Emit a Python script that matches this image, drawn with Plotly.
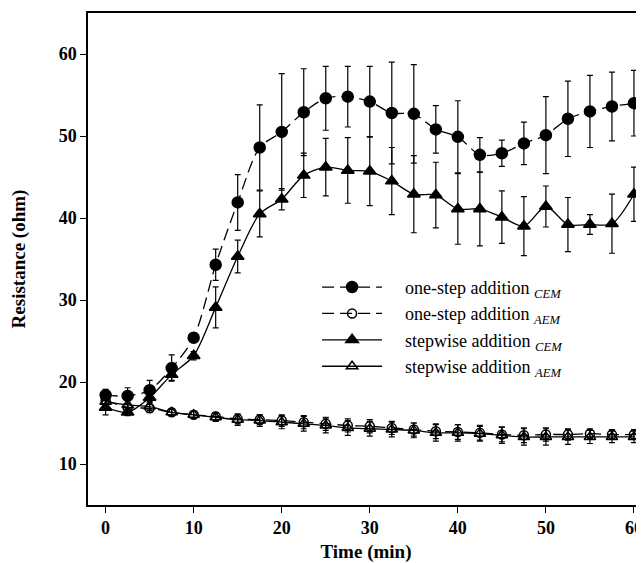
import plotly.graph_objects as go

# time points (min)
time = [0, 2.5, 5, 7.5, 10, 12.5, 15, 17.5, 20, 22.5, 25, 27.5, 30, 32.5,
        35, 37.5, 40, 42.5, 45, 47.5, 50, 52.5, 55, 57.5, 60]

onestep_cem = [18.4, 18.3, 19.0, 21.7, 25.4, 34.3, 41.9, 48.6, 50.5, 52.9, 54.6, 54.8, 54.2,
               52.8, 52.7, 50.8, 49.9, 47.7, 47.9, 49.1, 50.1, 52.1, 53.0, 53.6, 54.0]
onestep_cem_err = [0.7, 1.0, 1.2, 1.6, 0.5, 1.9, 3.4, 5.2, 7.1, 5.3, 3.9, 3.7, 4.3,
                   6.2, 6.0, 2.9, 4.4, 2.1, 1.6, 2.6, 4.7, 4.6, 4.4, 4.2, 4.0]

onestep_aem = [17.8, 16.9, 16.8, 16.3, 16.0, 15.8, 15.5, 15.4, 15.3, 15.1, 14.9, 14.7, 14.6,
               14.4, 14.2, 14.0, 13.9, 13.8, 13.6, 13.5, 13.6, 13.6, 13.7, 13.6, 13.6]
onestep_aem_err = [0.6, 0.5, 0.5, 0.4, 0.4, 0.5, 0.6, 0.6, 0.7, 0.8, 0.8, 0.8, 0.8,
                   0.8, 0.8, 0.9, 0.9, 0.9, 0.9, 0.9, 0.8, 0.7, 0.6, 0.6, 0.6]

stepwise_cem = [16.9, 16.3, 18.1, 20.9, 23.2, 29.1, 35.3, 40.5, 42.3, 45.2, 46.2, 45.8, 45.7,
                44.5, 42.9, 42.8, 41.1, 41.1, 40.1, 39.0, 41.4, 39.2, 39.2, 39.3, 42.9]
stepwise_cem_err = [0.9, 0.4, 0.5, 0.7, 0.5, 2.5, 2.0, 2.8, 1.3, 2.7, 3.5, 4.0, 4.2,
                    4.1, 4.7, 4.0, 4.3, 4.5, 3.2, 3.6, 2.5, 3.3, 1.2, 3.6, 3.3]

stepwise_aem = [17.6, 17.2, 17.0, 16.3, 16.0, 15.7, 15.4, 15.3, 15.1, 14.9, 14.7, 14.4, 14.3,
                14.2, 14.1, 13.8, 13.8, 13.7, 13.5, 13.3, 13.3, 13.3, 13.3, 13.3, 13.3]
stepwise_aem_err = [0.6, 0.5, 0.5, 0.4, 0.4, 0.5, 0.7, 0.7, 0.8, 0.9, 0.9, 0.9, 0.9,
                    0.9, 0.9, 1.0, 1.0, 0.9, 1.0, 1.0, 1.0, 0.9, 0.8, 0.7, 0.7]

pad = "\u00a0\u00a0\u00a0\u00a0"
series = [
    (pad + "one-step addition <sub><i>CEM</i></sub>", onestep_cem, onestep_cem_err, "circle", 11, "12px,6px"),
    (pad + "one-step addition <sub><i>AEM</i></sub>", onestep_aem, onestep_aem_err, "circle-open", 9, "12px,6px"),
    (pad + "stepwise addition <sub><i>CEM</i></sub>", stepwise_cem, stepwise_cem_err, "triangle-up", 11, "solid"),
    (pad + "stepwise addition <sub><i>AEM</i></sub>", stepwise_aem, stepwise_aem_err, "triangle-up-open", 10, "solid"),
]

fig = go.Figure()
for name, vals, err, sym, size, dash in series:
    fig.add_trace(go.Scatter(
        x=time, y=vals, name=name, mode="lines+markers",
        line=dict(color="black", width=1.3, dash=dash, shape="spline", smoothing=0.8),
        marker=dict(symbol=sym, size=size, color="black",
                    line=dict(color="black", width=1.5)),
        error_y=dict(type="data", array=err, color="black", thickness=1.2, width=3),
    ))

# the page body has an 8px margin, so the figure is 8px smaller and margins shifted
axis_font = dict(family="Liberation Serif", size=18, color="black", weight="bold")
title_font = dict(family="Liberation Serif", size=19, color="black", weight="bold")
fig.update_layout(
    width=636, height=555,
    margin=dict(l=80, r=0, t=5, b=58),
    plot_bgcolor="white", paper_bgcolor="white",
    showlegend=True,
    legend=dict(x=0.412, y=0.48, xanchor="left", yanchor="top",
                bgcolor="rgba(0,0,0,0)", itemwidth=60,
                font=dict(family="Liberation Serif", size=18, color="black")),
    xaxis=dict(range=[-2.0, 61.14], tickvals=[0, 10, 20, 30, 40, 50, 60],
               showline=True, linecolor="black", linewidth=1.5, mirror=True,
               ticks="outside", ticklen=6, tickcolor="black", showgrid=False, zeroline=False,
               tickfont=axis_font, automargin=False,
               title=dict(text="Time (min)", standoff=15, font=title_font)),
    yaxis=dict(range=[5, 65], tickvals=[10, 20, 30, 40, 50, 60],
               showline=True, linecolor="black", linewidth=1.5, mirror=False,
               ticks="outside", ticklen=6, tickcolor="black", showgrid=False, zeroline=False,
               tickfont=axis_font, automargin=False,
               title=dict(text="Resistance (ohm)", standoff=28, font=title_font)),
)

fig.write_html("out.html")
